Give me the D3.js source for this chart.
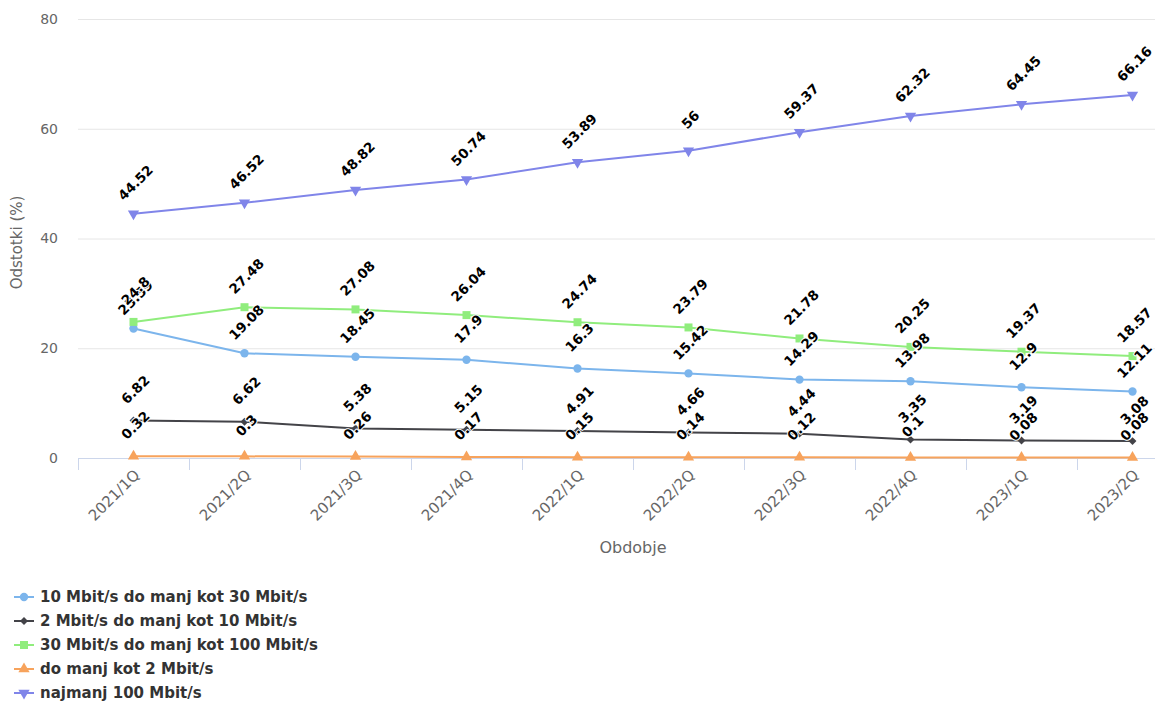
<!DOCTYPE html>
<html>
<head>
<meta charset="utf-8">
<script src="https://cdn.jsdelivr.net/npm/d3@7"></script>
<style>
  html, body { margin: 0; padding: 0; background: #fff; overflow: hidden; }
  svg { display: block; font-family: "DejaVu Sans", Verdana, sans-serif; }
</style>
</head>
<body>
<svg id="chart" width="1155" height="703"></svg>
<script>
// Quarterly periods
const categories = ["2021/1Q", "2021/2Q", "2021/3Q", "2021/4Q", "2022/1Q",
                    "2022/2Q", "2022/3Q", "2022/4Q", "2023/1Q", "2023/2Q"];

// Share of connections (%) by speed class
const speed10to30  = [23.59, 19.08, 18.45, 17.9, 16.3, 15.42, 14.29, 13.98, 12.9, 12.11];
const speed2to10   = [6.82, 6.62, 5.38, 5.15, 4.91, 4.66, 4.44, 3.35, 3.19, 3.08];
const speed30to100 = [24.8, 27.48, 27.08, 26.04, 24.74, 23.79, 21.78, 20.25, 19.37, 18.57];
const speedBelow2  = [0.32, 0.3, 0.26, 0.17, 0.15, 0.14, 0.12, 0.1, 0.08, 0.08];
const speed100plus = [44.52, 46.52, 48.82, 50.74, 53.89, 56, 59.37, 62.32, 64.45, 66.16];

const seriesNames = ["10 Mbit/s do manj kot 30 Mbit/s", "2 Mbit/s do manj kot 10 Mbit/s",
                     "30 Mbit/s do manj kot 100 Mbit/s", "do manj kot 2 Mbit/s", "najmanj 100 Mbit/s"];
const yTicks = [0, 20, 40, 60, 80];

const series = [
  { name: seriesNames[0], values: speed10to30,  color: "#7cb5ec", symbol: d3.symbolCircle,   size: 55 },
  { name: seriesNames[1], values: speed2to10,   color: "#434348", symbol: d3.symbolDiamond2, size: 40 },
  { name: seriesNames[2], values: speed30to100, color: "#90ed7d", symbol: d3.symbolSquare,   size: 64 },
  { name: seriesNames[3], values: speedBelow2,  color: "#f7a35c", symbol: d3.symbolTriangle, size: 55, rot: 0 },
  { name: seriesNames[4], values: speed100plus, color: "#8085e9", symbol: d3.symbolTriangle, size: 55, rot: 180 }
];

const svg = d3.select("#chart");
const plot = { left: 78, right: 1188, top: 19, bottom: 458 };

const x = d3.scaleBand().domain(categories).range([plot.left, plot.right]);
const y = d3.scaleLinear().domain([0, 80]).range([plot.bottom, plot.top]);
const cx = c => x(c) + x.bandwidth() / 2;

// Horizontal grid
svg.append("g").selectAll("line").data(yTicks.filter(t => t > 0)).join("line")
  .attr("x1", plot.left).attr("x2", plot.right)
  .attr("y1", d => y(d) + 0.5).attr("y2", d => y(d) + 0.5)
  .attr("stroke", "#e6e6e6").attr("stroke-width", 1);

// Y axis labels
svg.append("g").selectAll("text").data(yTicks).join("text")
  .attr("x", 58).attr("y", d => y(d)).attr("dy", "0.35em")
  .attr("text-anchor", "end").attr("fill", "#666").attr("font-size", 14)
  .text(d => d);

// Y axis title
svg.append("text")
  .attr("transform", `translate(22,${(plot.top + plot.bottom) / 2 + 4}) rotate(-90)`)
  .attr("text-anchor", "middle").attr("fill", "#666").attr("font-size", 15)
  .text("Odstotki (%)");

// X axis line and ticks
const xAxis = svg.append("g");
xAxis.append("line")
  .attr("x1", plot.left).attr("x2", plot.right)
  .attr("y1", plot.bottom + 0.5).attr("y2", plot.bottom + 0.5)
  .attr("stroke", "#ccd6eb");
const tickPos = categories.map(c => x(c)).concat([plot.right]);
xAxis.selectAll("line.tick").data(tickPos).join("line").attr("class", "tick")
  .attr("x1", d => d + 0.5).attr("x2", d => d + 0.5)
  .attr("y1", plot.bottom).attr("y2", plot.bottom + 12)
  .attr("stroke", "#ccd6eb");
xAxis.selectAll("text").data(categories).join("text")
  .attr("transform", d => `translate(${cx(d) + 7},${plot.bottom + 18}) rotate(-45)`)
  .attr("text-anchor", "end").attr("fill", "#666").attr("font-size", 15)
  .text(d => d);

// X axis title
svg.append("text")
  .attr("x", (plot.left + plot.right) / 2).attr("y", 553)
  .attr("text-anchor", "middle").attr("fill", "#666").attr("font-size", 16)
  .text("Obdobje");

// Lines and markers
const line = d3.line().x((d, i) => cx(categories[i])).y(d => y(d));
const gSeries = svg.append("g");
series.forEach(s => {
  const g = gSeries.append("g");
  g.append("path").datum(s.values).attr("d", line)
    .attr("fill", "none").attr("stroke", s.color).attr("stroke-width", 2)
    .attr("stroke-linejoin", "round");
  g.selectAll("path.m").data(s.values).join("path").attr("class", "m")
    .attr("d", d3.symbol(s.symbol, s.size))
    .attr("transform", (d, i) => `translate(${cx(categories[i])},${y(d)}) rotate(${s.rot || 0})`)
    .attr("fill", s.color);
});

// Data labels
const gLabels = svg.append("g");
series.forEach(s => {
  gLabels.append("g").selectAll("text").data(s.values).join("text")
    .attr("transform", (d, i) => `translate(${cx(categories[i]) + 2},${y(d) - 31}) rotate(-45)`)
    .attr("text-anchor", "middle").attr("dy", "0.35em")
    .attr("font-size", 13.5).attr("font-weight", "bold").attr("fill", "#000")
    .attr("stroke", "#fff").attr("stroke-width", 2).attr("stroke-linejoin", "round")
    .attr("paint-order", "stroke")
    .text(d => d);
});

// Legend
const legend = svg.append("g");
series.forEach((s, i) => {
  const ly = 597 + i * 24;
  const g = legend.append("g").attr("transform", `translate(0,${ly})`);
  g.append("line").attr("x1", 14).attr("x2", 34).attr("y1", 0).attr("y2", 0)
    .attr("stroke", s.color).attr("stroke-width", 2);
  g.append("path").attr("d", d3.symbol(s.symbol, s.size))
    .attr("transform", `translate(24,0) rotate(${s.rot || 0})`).attr("fill", s.color);
  g.append("text").attr("x", 40).attr("y", 0).attr("dy", "0.35em")
    .attr("font-size", 15).attr("font-weight", "bold").attr("fill", "#333")
    .text(s.name);
});
</script>
</body>
</html>
